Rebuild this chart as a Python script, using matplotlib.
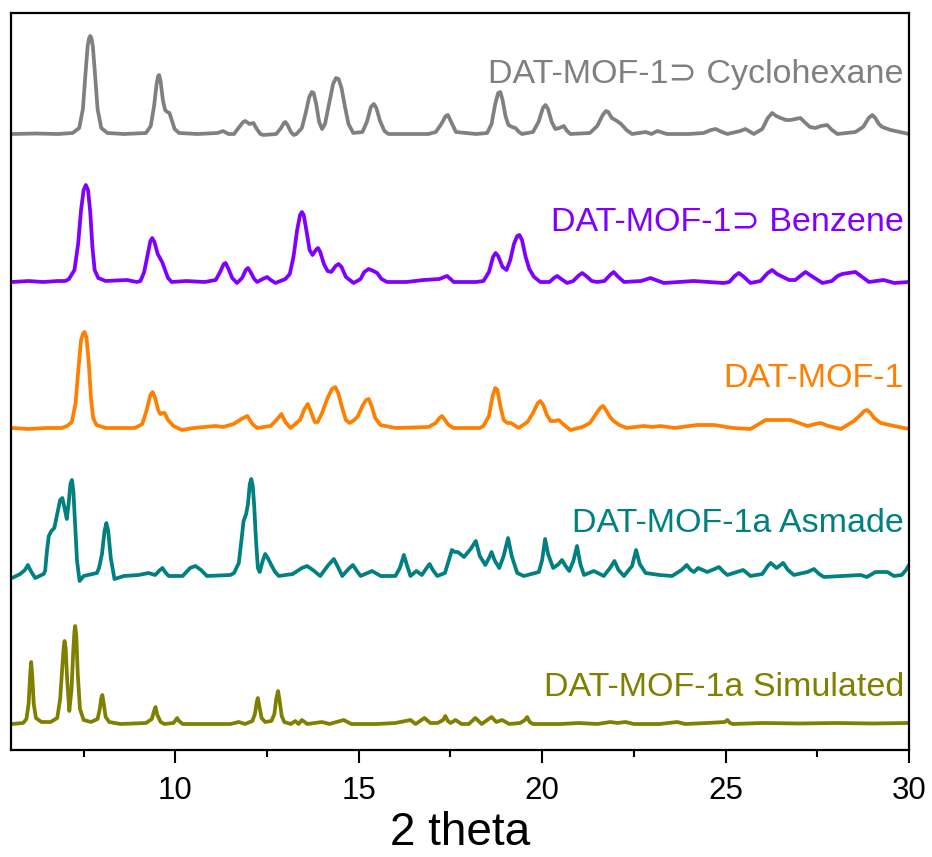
import matplotlib
matplotlib.use("Agg")
import matplotlib.pyplot as plt

# ---- data: (2theta, intensity above own baseline) ----
cyclohexane = [(5.55,0),(6.2,0.5),(6.8,0),(7.2,1),(7.38,6),(7.48,25),(7.55,60),(7.61,88),(7.65,96),(7.68,98),(7.71,96),(7.75,88),
    (7.81,60),(7.88,25),(7.98,6),(8.15,1),(8.6,0),
    (9.2,1),(9.33,8),(9.42,28),(9.49,50),(9.53,58),(9.56,59),(9.6,52),(9.66,34),(9.72,24),(9.78,22),(9.84,21),(9.9,14),(9.98,5),(10.1,1),
    (10.6,0),(11.15,1),(11.3,3),(11.45,0),
    (11.6,0),(11.72,6),(11.85,12),(11.91,13),(12.02,10),(12.13,11),(12.22,5),(12.32,0),(12.4,-1),(12.75,0),(12.88,6),(12.96,11),
    (13.0,12),(13.06,9),(13.15,2),(13.23,-1),
    (13.3,0),(13.45,6),(13.56,22),(13.65,37),(13.72,42),(13.77,41),(13.84,30),(13.92,12),(14.0,5),(14.08,10),(14.2,32),(14.3,50),
    (14.38,56),(14.45,55),(14.53,46),(14.62,28),(14.72,10),(14.85,1),
    (15.1,2),(15.22,12),(15.33,27),(15.41,30),(15.48,26),(15.58,13),(15.7,3),(15.81,0),(16.3,0),(16.9,0),
    (17.1,2),(17.25,10),(17.37,18),(17.43,19),(17.52,12),(17.65,2),(18.2,0),
    (18.5,1),(18.62,10),(18.72,30),(18.8,41),(18.86,42),(18.92,34),(19.0,18),(19.08,9),(19.18,7),(19.27,6),(19.37,2),(19.45,0),
    (19.75,2),(19.9,12),(20.02,26),(20.09,29),(20.16,25),(20.26,12),(20.36,5),(20.47,6),(20.59,8),(20.68,3),(20.77,0),
    (21.3,1),(21.5,8),(21.65,19),(21.74,23),(21.8,22),(21.9,16),(22.04,13),(22.15,10),(22.3,4),(22.45,0),
    (22.82,2),(22.98,0),(23.14,3),(23.4,0),(24.0,0),(24.4,1),(24.6,4),(24.73,5),(24.9,2),(25.05,0),(25.4,3),(25.54,5),(25.77,0),
    (26.0,5),(26.15,16),(26.27,21),(26.38,18),(26.5,16),(26.65,14),(26.77,14),(26.9,15),(27.04,16),(27.15,12),(27.3,7),(27.45,6),
    (27.6,8),(27.77,9),(27.9,4),(28.05,0),(28.54,2),(28.75,7),(28.9,16),(29.0,19),(29.08,16),(29.18,10),(29.27,7),(29.5,4),(30.0,0)]

benzene = [(5.55,0),(6.0,1),(6.4,0),(6.8,1),(7.0,1),(7.1,3),(7.25,12),(7.35,38),(7.43,72),(7.5,92),(7.56,97),(7.62,92),(7.68,70),
    (7.74,35),(7.8,12),(7.9,4),(8.1,1),(8.68,2),(8.95,0),
    (9.05,1),(9.15,10),(9.25,28),(9.32,41),(9.37,44),(9.43,40),(9.52,28),(9.64,20),(9.72,12),(9.8,4),(9.9,0),(10.3,1),(10.8,0),
    (11.1,2),(11.22,10),(11.32,18),(11.37,19),(11.45,13),(11.55,4),(11.68,-1),
    (11.82,4),(11.92,12),(11.98,14),(12.05,10),(12.15,3),(12.23,0),(12.38,3),(12.5,5),(12.6,2),(12.73,-1),
    (13.0,3),(13.12,8),(13.22,25),(13.32,52),(13.4,67),(13.45,70),(13.5,67),(13.58,50),(13.66,32),(13.74,27),(13.83,32),(13.89,34),
    (13.95,30),(14.05,18),(14.15,11),(14.25,10),(14.37,16),(14.45,18),(14.53,15),(14.65,5),(14.86,-1),
    (15.05,3),(15.15,10),(15.27,13),(15.4,11),(15.5,9),(15.62,3),(15.77,0),(16.3,0),(16.77,2),(17.2,3),(17.33,5),(17.41,6),(17.5,3),(17.59,0),
    (18.2,0),(18.4,1),(18.55,10),(18.66,25),(18.73,29),(18.8,26),(18.92,15),(19.03,12),(19.13,22),(19.23,38),(19.32,46),(19.38,47),
    (19.45,42),(19.55,25),(19.65,13),(19.78,5),(19.95,0),
    (20.2,0),(20.32,4),(20.41,6),(20.52,3),(20.68,-1),(20.85,1),(20.98,6),(21.09,9),(21.2,6),(21.35,1),(21.5,0),
    (21.7,1),(21.85,7),(21.95,10),(22.05,6),(22.23,0),(22.7,1),(22.95,4),(23.1,2),(23.32,-1),(24.13,1),(24.95,-1),
    (25.1,0),(25.25,6),(25.36,9),(25.47,6),(25.68,-1),(25.95,1),(26.15,9),(26.27,12),(26.4,8),(26.73,2),
    (26.9,2),(27.07,7),(27.18,10),(27.3,7),(27.64,-1),(27.9,1),(28.05,6),(28.18,8),(28.35,9),(28.54,10),(28.65,7),(28.91,0),
    (29.31,2),(29.6,-1),(30.0,0)]

mof1 = [(5.55,0),(6.0,-1),(6.5,0),(6.9,0),(7.05,2),(7.18,6),(7.28,25),(7.36,60),(7.43,88),(7.49,95),(7.53,96),(7.58,90),(7.64,65),
    (7.7,30),(7.76,10),(7.85,3),(8.1,0),(8.9,0),
    (9.1,4),(9.22,18),(9.32,33),(9.38,36),(9.45,30),(9.53,18),(9.59,14),(9.66,15),(9.71,15),(9.8,8),(9.95,2),(10.18,-2),(10.5,0),
    (11.09,2),(11.3,1),(11.59,4),(11.8,9),(11.96,12),(12.1,4),(12.23,0),(12.6,2),(12.78,9),(12.89,14),(13.0,6),(13.14,0),
    (13.4,8),(13.52,19),(13.61,24),(13.7,16),(13.8,6),(13.88,6),(14.0,15),(14.15,30),(14.27,39),(14.36,41),(14.44,35),(14.55,20),
    (14.65,8),(14.75,5),(14.88,8),(14.98,12),(15.1,22),(15.2,28),(15.27,29),(15.35,22),(15.45,10),(15.59,3),(16.0,0),
    (16.9,1),(17.1,5),(17.2,10),(17.27,12),(17.35,8),(17.45,3),(17.58,0),(18.3,0),
    (18.4,2),(18.55,12),(18.65,32),(18.72,40),(18.78,38),(18.86,22),(18.95,8),(19.05,5),(19.15,5),(19.36,0),
    (19.6,6),(19.75,15),(19.88,25),(19.95,27),(20.03,23),(20.13,13),(20.23,7),(20.35,7),(20.45,8),(20.6,3),(20.77,-2),
    (21.1,1),(21.3,5),(21.45,13),(21.58,20),(21.66,22),(21.74,18),(21.85,11),(21.95,7),(22.1,3),(22.31,0),
    (22.77,2),(23.0,1),(23.23,2),(23.6,0),(24.23,3),(24.68,3),(25.2,0),(25.68,-1),(26.09,8),(26.5,8),(26.77,8),(27.23,2),
    (27.45,4),(27.59,5),(27.8,2),(28.14,-1),(28.5,7),(28.65,12),(28.78,17),(28.86,18),(28.95,15),(29.05,10),(29.23,5),(29.59,2),(30.0,-1)]

asmade = [(5.55,-2),(5.77,2),(5.9,6),(5.98,11),(6.06,5),(6.18,-2),(6.41,2),(6.45,5),(6.5,25),(6.55,40),(6.62,45),(6.7,48),(6.78,62),
    (6.86,76),(6.92,78),(6.98,68),(7.04,57),(7.09,72),(7.14,92),(7.18,96),(7.22,85),(7.27,50),(7.32,15),(7.39,-5),(7.5,0),
    (7.86,3),(7.92,8),(8.0,22),(8.07,45),(8.12,53),(8.17,45),(8.24,18),(8.34,-3),(8.6,0),(9.0,1),
    (9.27,3),(9.45,1),(9.58,6),(9.65,8),(9.72,4),(9.82,0),(10.2,0),(10.4,8),(10.55,10),(10.7,6),(10.86,0),
    (11.5,1),(11.6,3),(11.73,13),(11.8,35),(11.86,55),(11.93,62),(11.98,72),(12.03,92),(12.07,97),(12.11,90),(12.15,70),(12.2,35),
    (12.25,8),(12.3,4),(12.38,15),(12.45,22),(12.52,18),(12.63,10),(12.72,4),(12.82,0),
    (13.2,2),(13.45,8),(13.59,10),(13.75,6),(13.95,0),(14.15,10),(14.32,17),(14.42,10),(14.55,0),(14.72,7),(14.84,11),(14.95,5),
    (15.05,0),(15.36,5),(15.6,0),(16.0,0),(16.12,8),(16.23,21),(16.32,10),(16.41,0),(16.57,5),(16.72,1),(16.85,8),(16.93,12),
    (17.02,6),(17.14,0),(17.35,3),(17.45,15),(17.54,26),(17.62,24),(17.7,24),(17.87,19),(18.05,27),(18.19,35),(18.3,20),(18.45,11),
    (18.55,18),(18.62,24),(18.7,16),(18.83,8),(18.95,20),(19.07,38),(19.17,20),(19.32,3),(19.5,0),(19.91,4),(20.0,16),(20.08,37),
    (20.16,22),(20.3,8),(20.45,12),(20.54,16),(20.64,10),(20.74,5),(20.85,15),(20.95,30),(21.04,12),(21.14,1),(21.41,5),(21.68,0),
    (21.85,8),(21.97,15),(22.08,6),(22.23,0),(22.45,10),(22.56,26),(22.66,12),(22.82,3),(23.2,1),(23.54,0),(23.8,6),
    (23.94,11),(24.05,6),(24.14,4),(24.25,8),(24.5,4),(24.7,7),(24.82,9),(24.95,4),(25.05,1),(25.48,6),(25.68,0),(26.0,2),
    (26.15,10),(26.23,13),(26.39,8),(26.5,11),(26.57,13),(26.7,6),(26.86,1),(27.23,4),(27.41,7),(27.55,2),(27.68,-1),(28.2,0),
    (28.68,1),(28.85,-1),(29.09,4),(29.41,4),(29.59,0),(29.8,1),(29.92,6),(30.0,11)]

simulated = [(5.55,0),(5.85,1),(5.94,5),(6.0,20),(6.04,48),(6.07,62),(6.1,48),(6.14,20),(6.2,6),(6.35,2),(6.6,2),(6.78,6),
    (6.86,25),(6.92,58),(6.96,78),(6.98,83),(7.01,76),(7.05,45),(7.11,13),(7.17,35),(7.22,75),(7.25,93),(7.27,98),(7.3,88),
    (7.34,50),(7.4,15),(7.5,4),(7.7,2),(7.88,5),(7.94,15),(7.98,26),(8.01,29),(8.05,20),(8.1,7),(8.2,2),(8.5,0),
    (9.2,1),(9.36,5),(9.42,13),(9.46,17),(9.51,9),(9.6,2),(9.7,0),(9.95,1),(10.01,4),(10.05,6),(10.1,3),(10.2,0),(10.5,0),
    (11.5,0),(11.73,2),(11.9,0),(12.1,3),(12.17,10),(12.22,22),(12.25,26),(12.29,18),(12.35,6),(12.45,2),(12.62,3),(12.7,10),
    (12.75,25),(12.8,33),(12.84,24),(12.9,8),(12.97,2),(13.15,0),(13.27,3),(13.36,0),
    (13.45,4),(13.6,0),(14.0,2),(14.2,0),(14.59,4),(14.8,0),(15.5,0),(16.0,1),(16.41,4),(16.55,0),(16.79,6),(16.95,1),(17.15,1),
    (17.3,4),(17.36,8),(17.43,3),(17.5,1),(17.64,4),(17.8,0),(18.0,0),(18.18,6),(18.35,0),(18.62,7),(18.75,2),(18.91,4),(19.1,0),
    (19.4,1),(19.53,4),(19.59,7),(19.66,2),(19.75,0),(20.5,0),(21.0,1),(21.5,0),(21.86,2),(22.05,1),(22.27,2),(22.5,0),(23.2,0),
    (23.68,2),(23.9,0),(24.5,1),(24.98,2),(25.05,4),(25.12,1),(25.2,0),(26.0,1),(27.0,0.5),(28.0,1),(29.0,0.5),(30.0,1)]

series = [cyclohexane, benzene, mof1, asmade, simulated]
labels = ["DAT-MOF-1\u2283 Cyclohexane", "DAT-MOF-1\u2283 Benzene", "DAT-MOF-1",
          "DAT-MOF-1a Asmade", "DAT-MOF-1a Simulated"]
colors = ["#808080", "#8000FF", "#FF8000", "#008080", "#808000"]
offsets = [616, 468, 322, 174, 26]
label_y = [667, 519, 363, 218, 54]

x_ticks = [10, 15, 20, 25, 30]
x_minor = [7.5, 12.5, 17.5, 22.5, 27.5]

fig = plt.figure(figsize=(9.32, 8.57), dpi=100)
ax = fig.add_axes([11/932, 107/857, 898/932, 737/857])
fam = ["Liberation Sans", "DejaVu Sans"]

for data, lab, col, off, ly in zip(series, labels, colors, offsets, label_y):
    xs = [p[0] for p in data]
    ys = [p[1] + off for p in data]
    ax.plot(xs, ys, color=col, lw=2.7, solid_joinstyle="round", solid_capstyle="round")
    ax.text(29.86, ly, lab, color=col, fontsize=24.5, ha="right", va="baseline", family=fam)

ax.set_xlim(5.52, 30)
ax.set_ylim(0, 737)
ax.set_yticks([])
ax.set_xticks(x_ticks)
ax.set_xticks(x_minor, minor=True)
ax.tick_params(axis="x", which="major", direction="out", length=9, width=1.5, pad=10, labelsize=22.5)
ax.tick_params(axis="x", which="minor", direction="out", length=5, width=1.5)
for lbl in ax.get_xticklabels():
    lbl.set_family(fam)
for s in ax.spines.values():
    s.set_linewidth(1.6)
ax.set_xlabel("2 theta", fontsize=33, family=fam, labelpad=3)

fig.savefig("out.png", dpi=100)
